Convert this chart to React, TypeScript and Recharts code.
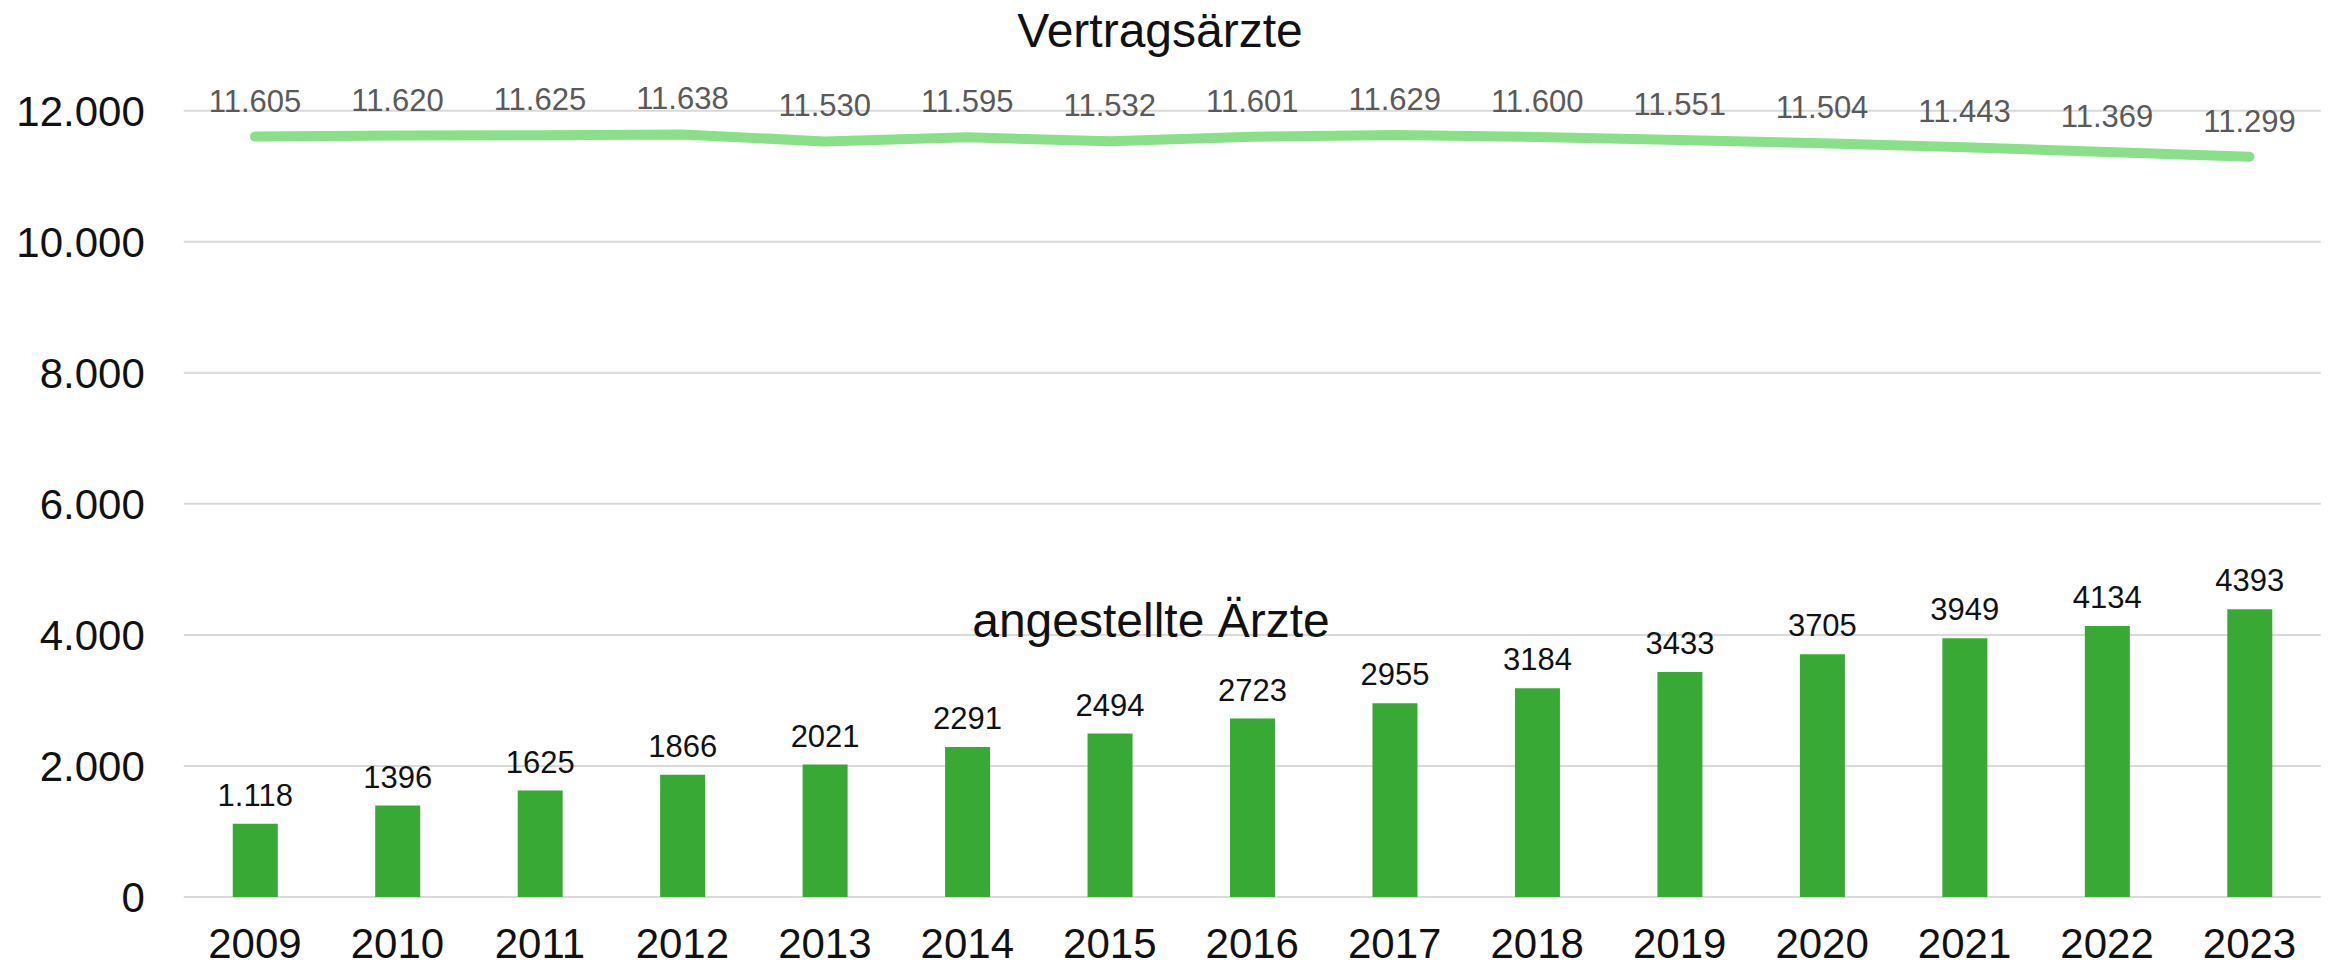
import React from "react";
import { ComposedChart, Bar, Line, XAxis, YAxis, CartesianGrid, LabelList } from "recharts";

const years = ["2009","2010","2011","2012","2013","2014","2015","2016","2017","2018","2019","2020","2021","2022","2023"];
const angestellte = [1118,1396,1625,1866,2021,2291,2494,2723,2955,3184,3433,3705,3949,4134,4393];
const angestellteLabels = ["1.118","1396","1625","1866","2021","2291","2494","2723","2955","3184","3433","3705","3949","4134","4393"];
const vertragsaerzte = [11605,11620,11625,11638,11530,11595,11532,11601,11629,11600,11551,11504,11443,11369,11299];
const vertragsLabels = ["11.605","11.620","11.625","11.638","11.530","11.595","11.532","11.601","11.629","11.600","11.551","11.504","11.443","11.369","11.299"];
const yTicks = [0,2000,4000,6000,8000,10000,12000];

const data = years.map((y, i) => ({
  year: y,
  angestellte: angestellte[i],
  angLabel: angestellteLabels[i],
  vertrags: vertragsaerzte[i],
  vertLabel: vertragsLabels[i],
}));

const FONT = "'Liberation Sans', Arial, sans-serif";
const fmt = (v: number) => String(v).replace(/\B(?=(\d{3})+(?!\d))/g, ".");

export default function App() {
  return (
    <div style={{ position: "absolute", left: 0, top: 0, width: 2334, height: 968, background: "#fff", fontFamily: FONT }}>
      <ComposedChart
        width={2334}
        height={968}
        data={data}
        margin={{ top: 110.7, right: 13.25, bottom: 0, left: 0 }}
        barCategoryGap={0}
      >
        <CartesianGrid vertical={false} stroke="#d9d9d9" strokeWidth={2} />
        <XAxis
          dataKey="year"
          height={71}
          axisLine={false}
          tickLine={false}
          tickMargin={25}
          tick={{ fontSize: 42, fill: "#111", fontFamily: FONT }}
          interval={0}
        />
        <YAxis
          width={183.75}
          domain={[0, 12000]}
          ticks={yTicks}
          axisLine={false}
          tickLine={false}
          tickMargin={33}
          tickFormatter={fmt}
          tick={{ fontSize: 42, fill: "#111", fontFamily: FONT }}
        />
        <Bar dataKey="angestellte" fill="#38a935" barSize={45} isAnimationActive={false}>
          <LabelList dataKey="angLabel" position="top" offset={18} fontSize={31} fill="#111" fontFamily={FONT} />
        </Bar>
        <Line
          dataKey="vertrags"
          stroke="#8ae089"
          strokeWidth={10}
          strokeLinecap="round"
          strokeLinejoin="round"
          dot={false}
          activeDot={false}
          isAnimationActive={false}
        >
          <LabelList dataKey="vertLabel" position="top" offset={25} fontSize={31} fill="#595959" fontFamily={FONT} />
        </Line>
      </ComposedChart>
      <svg width={2334} height={968} style={{ position: "absolute", left: 0, top: 0, pointerEvents: "none" }}>
        <text x={1160} y={47} textAnchor="middle" fontSize={48} fill="#111" fontFamily={FONT}>Vertragsärzte</text>
        <text x={1151} y={637} textAnchor="middle" fontSize={48} fill="#111" fontFamily={FONT}>angestellte Ärzte</text>
      </svg>
    </div>
  );
}
